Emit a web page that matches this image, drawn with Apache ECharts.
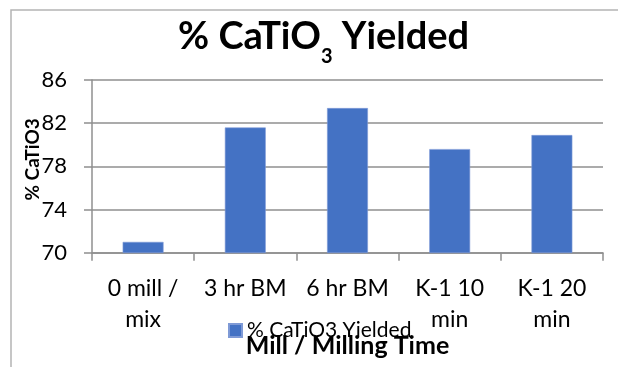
<!DOCTYPE html>
<html>
<head>
<meta charset="utf-8">
<script src="https://cdn.jsdelivr.net/npm/echarts@6/dist/echarts.min.js"></script>
<style>
  html, body { margin: 0; padding: 0; background: #fff; }
  #chart { width: 618px; height: 367px; }
</style>
</head>
<body>
<div id="chart"></div>
<script>
// Milling categories and yields (%)
const categories = ['0 mill /\nmix', '3 hr BM', '6 hr BM', 'K-1 10\nmin', 'K-1 20\nmin'];
const yieldValues = [71.0, 81.6, 83.4, 79.6, 80.9];
const seriesName = '% CaTiO3 Yielded';
const yTicks = { min: 70, max: 86, interval: 4 };

const FONT = 'Lato';
const GRAY = '#8f8f8f';

const chart = echarts.init(document.getElementById('chart'), null, { renderer: 'canvas' });

chart.setOption({
  backgroundColor: '#ffffff',
  animation: false,
  textStyle: { fontFamily: FONT, color: '#000' },
  graphic: [{
    type: 'rect',
    shape: { x: 11, y: 10, width: 700, height: 500 },
    style: { fill: 'none', stroke: '#b4b4b4', lineWidth: 1.5 },
    silent: true
  }],
  title: {
    // main text plus a lowered subscript "3"
    text: '{a|% CaTiO}{s|3}{a| Yielded}',
    left: 178,
    top: 18,
    padding: 0,
    textStyle: {
      rich: {
        a: { fontFamily: FONT, fontSize: 38, fontWeight: 'bold', color: '#000', lineHeight: 44, verticalAlign: 'top' },
        s: { fontFamily: FONT, fontSize: 20, fontWeight: 'bold', color: '#000', verticalAlign: 'top', padding: [29, 0, 0, 0] }
      }
    }
  },
  legend: {
    data: [seriesName],
    left: 228,
    top: 320,
    padding: 0,
    itemWidth: 13,
    itemHeight: 13,
    itemGap: 6,
    icon: 'rect',
    textStyle: { fontFamily: FONT, fontSize: 21, color: '#000' }
  },
  grid: { left: 92, right: 15, top: 80, bottom: 114.3, containLabel: false },
  xAxis: {
    type: 'category',
    data: categories,
    name: 'Mill / Milling Time',
    nameLocation: 'middle',
    nameGap: 81,
    nameMoveOverlap: false,
    nameTextStyle: { fontFamily: FONT, fontSize: 25, fontWeight: 'bold', color: '#000' },
    axisLine: { show: true, lineStyle: { color: GRAY, width: 1.5 } },
    axisTick: { show: true, alignWithLabel: false, length: 8, lineStyle: { color: GRAY, width: 1.5 } },
    axisLabel: { interval: 0, margin: 20, fontFamily: FONT, fontSize: 23, lineHeight: 31, color: '#000' },
    splitLine: { show: false }
  },
  yAxis: {
    type: 'value',
    min: yTicks.min,
    max: yTicks.max,
    interval: yTicks.interval,
    name: '% CaTiO3',
    nameLocation: 'middle',
    nameGap: 50,
    nameMoveOverlap: false,
    nameTextStyle: { fontFamily: FONT, fontSize: 19, fontWeight: 'bold', color: '#000', padding: [0, 0, 0, 14] },
    axisLine: { show: true, lineStyle: { color: GRAY, width: 1.5 } },
    axisTick: { show: true, length: 8, lineStyle: { color: GRAY, width: 1.5 } },
    axisLabel: { margin: 25, fontFamily: FONT, fontSize: 22, color: '#000' },
    splitLine: { show: true, lineStyle: { color: GRAY, width: 1.5 } }
  },
  series: [{
    name: seriesName,
    type: 'bar',
    data: yieldValues,
    barCategoryGap: '60%',
    itemStyle: { color: '#4472C4', borderColor: '#7f9ad6', borderWidth: 0.6 }
  }]
});
</script>
</body>
</html>
